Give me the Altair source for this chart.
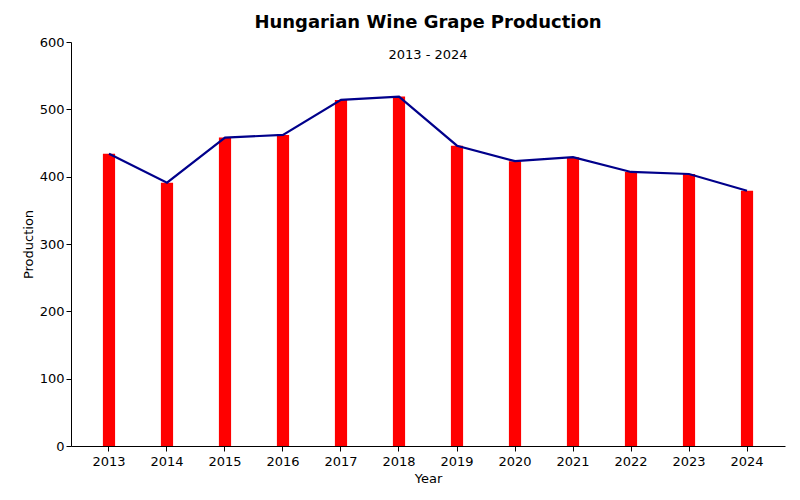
import altair as alt
import pandas as pd

years = [str(y) for y in range(2013, 2025)]
production = [434, 391, 458, 462, 514, 519, 446, 423, 429, 407, 404, 379]

df = pd.DataFrame({"Year": years, "Production": production})

xscale = alt.Scale(paddingInner=0.79, paddingOuter=0.55)
xaxis = alt.Axis(labelAngle=0, title="Year", labelPadding=4, titlePadding=4)
y_enc = alt.Y("Production:Q", scale=alt.Scale(domain=[0, 600]),
              axis=alt.Axis(values=list(range(0, 601, 100)), grid=False, title="Production"))

bars = alt.Chart(df).mark_bar(color="red").encode(
    x=alt.X("Year:O", scale=xscale, axis=xaxis), y=y_enc)
line = alt.Chart(df).mark_line(color="darkblue", strokeWidth=2.2).encode(
    x=alt.X("Year:O", bandPosition=0.5, scale=xscale, axis=xaxis), y=y_enc)
subtitle = alt.Chart(pd.DataFrame({"t": ["2013 - 2024"]})).mark_text(
    fontSize=13, font="DejaVu Sans", color="black", baseline="middle").encode(
    text="t:N", x=alt.value(357), y=alt.value(13))

chart = (bars + line + subtitle).properties(
    width=714, height=404,
    padding={"left": 14, "top": 6, "right": 5, "bottom": 5},
    title=alt.TitleParams("Hungarian Wine Grape Production", fontSize=18,
                          font="DejaVu Sans", color="black", offset=4),
).configure_view(stroke=None).configure_axis(
    domainColor="black", tickColor="black", labelColor="black", titleColor="black",
    labelFont="DejaVu Sans", titleFont="DejaVu Sans", labelFontSize=13, titleFontSize=13,
    titleFontWeight="normal",
)

chart.save("out.html", embed_options={"renderer": "svg", "actions": False})
